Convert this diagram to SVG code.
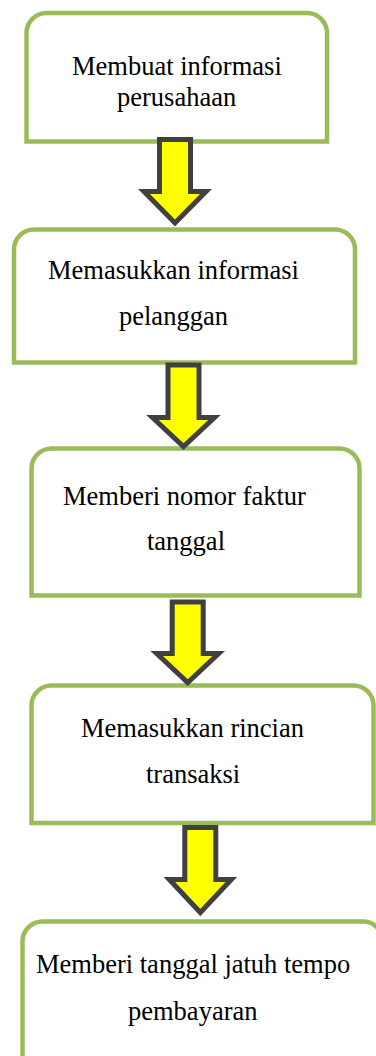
<svg xmlns="http://www.w3.org/2000/svg" width="376" height="1056" viewBox="0 0 376 1056">
<style>
.box{fill:#fff;stroke:#9BBB59;stroke-width:4.5}
.arr{fill:#FFFF00;stroke:#404040;stroke-width:5;stroke-linejoin:miter}
text{font-family:"Liberation Serif","Times New Roman",serif;font-size:26.5px;fill:#000}
</style>
<rect width="376" height="1056" fill="#fff"/>
<g id="node1">
<path class="box" d="M26.5,141.5 V33 A20,20 0 0 1 46.5,13 H307 A20,20 0 0 1 327,33 V141.5 Z"/>
<text x="72" y="75">Membuat informasi</text>
<text x="117" y="106">perusahaan</text>
</g>
<g id="node2">
<path class="box" d="M14,362.5 V249.5 A20,20 0 0 1 34,229.5 H335 A20,20 0 0 1 355,249.5 V362.5 Z"/>
<text x="48" y="279">Memasukkan informasi</text>
<text x="119" y="325">pelanggan</text>
</g>
<g id="node3">
<path class="box" d="M31.5,595.5 V468.5 A20,20 0 0 1 51.5,448.5 H339.5 A20,20 0 0 1 359.5,468.5 V595.5 Z"/>
<text x="63" y="505">Memberi nomor faktur</text>
<text x="147" y="550">tanggal</text>
</g>
<g id="node4">
<path class="box" d="M31.5,823 V705.5 A20,20 0 0 1 51.5,685.5 H353.5 A20,20 0 0 1 373.5,705.5 V823 Z"/>
<text x="81" y="737">Memasukkan rincian</text>
<text x="146" y="783">transaksi</text>
</g>
<g id="node5">
<path class="box" d="M22.5,1075 V941.5 A20,20 0 0 1 42.5,921.5 H363 A20,20 0 0 1 383,941.5 V1075 Z"/>
<text x="36" y="973">Memberi tanggal jatuh tempo</text>
<text x="128" y="1020">pembayaran</text>
</g>
<g id="connectors">
<path class="arr" d="M159.5,139.5 H190.5 V191.5 H206 L175,223 L144,191.5 H159.5 Z"/>
<path class="arr" d="M168,365 H199 V417.5 H214.5 L183.5,446.5 L152.5,417.5 H168 Z"/>
<path class="arr" d="M172.2,602 H203.2 V653.5 H218.7 L187.7,682.5 L156.7,653.5 H172.2 Z"/>
<path class="arr" d="M184.8,827.5 H215.8 V879.5 H231.3 L200.3,912.5 L169.3,879.5 H184.8 Z"/>
</g>
</svg>
